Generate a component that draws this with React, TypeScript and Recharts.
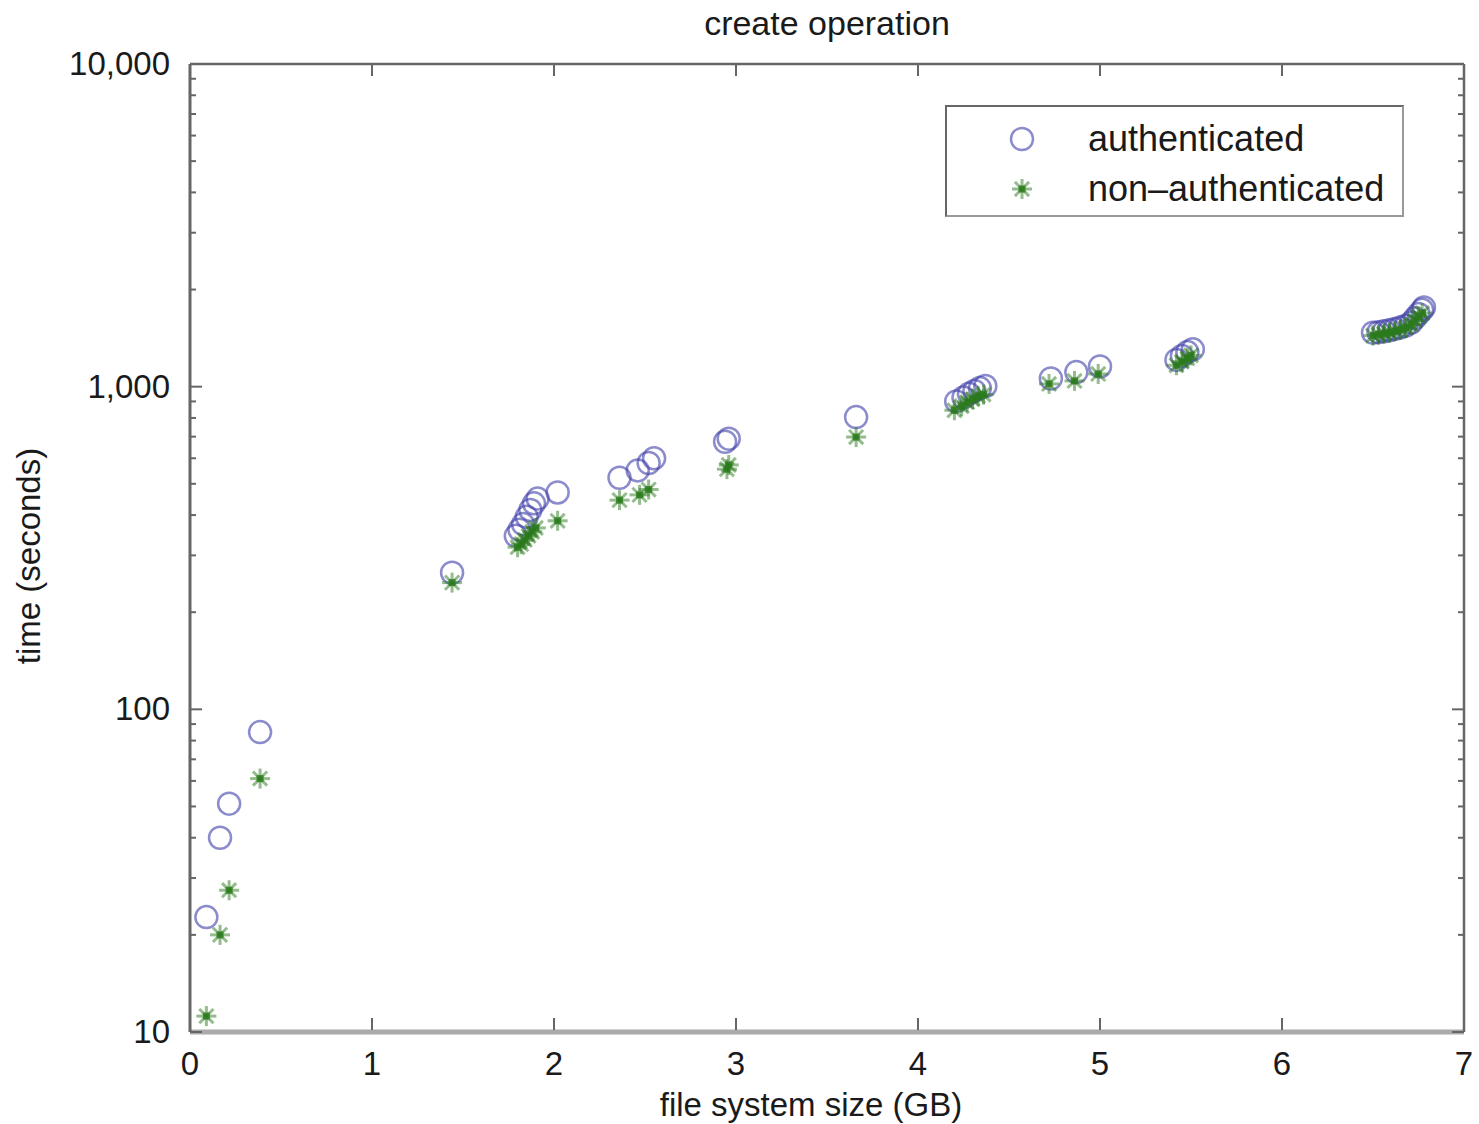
import { ScatterChart, Scatter, XAxis, YAxis, Legend } from 'recharts';

// authenticated runs (circles)
const AUTH_X = [
  0.09, 0.165, 0.215, 0.385, 1.44,
  1.79, 1.81, 1.83, 1.85, 1.87, 1.89, 1.91, 2.02,
  2.36, 2.46, 2.52, 2.55, 2.94, 2.96, 3.66,
  4.21, 4.25, 4.28, 4.31, 4.34, 4.37,
  4.73, 4.87, 5.0,
  5.42, 5.45, 5.48, 5.51,
  6.5, 6.53, 6.56, 6.59, 6.62, 6.65, 6.68, 6.71, 6.73, 6.75, 6.77, 6.78,
];
const AUTH_Y = [
  22.7, 40, 51, 85, 265,
  345, 360, 375, 395, 415, 435, 450, 470,
  522, 550, 580, 600, 675, 690, 805,
  900, 925, 950, 970, 990, 1005,
  1060, 1110, 1155,
  1210, 1245, 1280, 1305,
  1470, 1475, 1485, 1495, 1510, 1525, 1545, 1580, 1630, 1680, 1730, 1760,
];

// non-authenticated runs (asterisks)
const NONAUTH_X = [
  0.09, 0.165, 0.215, 0.385, 1.44,
  1.8, 1.82, 1.84, 1.86, 1.88, 1.9, 2.02,
  2.36, 2.47, 2.52, 2.95, 2.96, 3.66,
  4.2, 4.24, 4.27, 4.3, 4.33, 4.36,
  4.72, 4.86, 4.99,
  5.42, 5.45, 5.48, 5.5,
  6.5, 6.53, 6.56, 6.59, 6.62, 6.65, 6.68, 6.71, 6.73, 6.75, 6.77,
];
const NONAUTH_Y = [
  11.2, 20, 27.5, 61, 247,
  318, 325, 335, 345, 355, 365, 384,
  445, 462, 480, 555, 572, 698,
  845, 870, 895, 915, 935, 945,
  1020, 1042, 1095,
  1165, 1195, 1225, 1250,
  1440, 1450, 1460, 1470, 1485, 1500, 1520, 1555, 1600, 1650, 1690,
];

const X_TICKS = [0, 1, 2, 3, 4, 5, 6, 7];
const Y_MAJOR = [10, 100, 1000, 10000];
const Y_MINOR = [20, 30, 40, 50, 60, 70, 80, 90, 200, 300, 400, 500, 600, 700, 800, 900, 2000, 3000, 4000, 5000, 6000, 7000, 8000, 9000];
const Y_TICKS = [...Y_MAJOR, ...Y_MINOR].sort((a, b) => a - b);

const authData = AUTH_X.map((x, i) => ({ x, y: AUTH_Y[i] }));
const nonAuthData = NONAUTH_X.map((x, i) => ({ x, y: NONAUTH_Y[i] }));

const FONT = '"Liberation Sans", Arial, sans-serif';
const FRAME = '#666';
const TEXT = '#1a1a1a';
const CIRCLE = '#4040aa';
const STAR = '#2a7a1c';

const fmt = (v: number) => v.toLocaleString('en-US');

const CircleMark = ({ cx, cy }: any) => (
  <circle cx={cx} cy={cy} r={11} fill="none" stroke={CIRCLE} strokeOpacity={0.6} strokeWidth={2.5} />
);

const StarMark = ({ cx, cy }: any) => {
  const r = 10;
  const d = r * 0.707;
  return (
    <g stroke={STAR} strokeOpacity={0.5} strokeWidth={3}>
      <line x1={cx - r} y1={cy} x2={cx + r} y2={cy} />
      <line x1={cx} y1={cy - r} x2={cx} y2={cy + r} />
      <line x1={cx - d} y1={cy - d} x2={cx + d} y2={cy + d} />
      <line x1={cx - d} y1={cy + d} x2={cx + d} y2={cy - d} />
      <rect x={cx - 3.5} y={cy - 3.5} width={7} height={7} fill={STAR} fillOpacity={0.8} stroke="none" />
    </g>
  );
};

const LeftTick = ({ x, y, payload }: any) => {
  const major = Y_MAJOR.includes(payload.value);
  return (
    <g>
      <line x1={x} y1={y} x2={x + (major ? 12 : 6)} y2={y} stroke={FRAME} strokeWidth={2} />
      {major && (
        <text x={x - 20} y={y} dy={11} textAnchor="end" fontSize={33} fill={TEXT} fontFamily={FONT}>
          {fmt(payload.value)}
        </text>
      )}
    </g>
  );
};

const RightTick = ({ x, y, payload }: any) => {
  const major = Y_MAJOR.includes(payload.value);
  return <line x1={x} y1={y} x2={x - (major ? 12 : 6)} y2={y} stroke={FRAME} strokeWidth={2} />;
};

const BottomTick = ({ x, y, payload }: any) => (
  <g>
    <line x1={x} y1={y - 2} x2={x} y2={y - 14} stroke={FRAME} strokeWidth={2} />
    <text x={x} y={y + 43} textAnchor="middle" fontSize={33} fill={TEXT} fontFamily={FONT}>
      {payload.value}
    </text>
  </g>
);

const TopTick = ({ x, y }: any) => (
  <line x1={x} y1={y} x2={x} y2={y + 12} stroke={FRAME} strokeWidth={2} />
);

const LegendBox = ({ payload }: any) => (
  <div
    style={{
      width: 455,
      height: 108,
      border: `2px solid ${FRAME}`,
      borderRightColor: '#999',
      borderBottomColor: '#999',
      background: '#fff',
      fontFamily: FONT,
      fontSize: 36,
      color: TEXT,
      boxSizing: 'content-box',
    }}
  >
    {(payload || [])
      .filter((p: any) => p.type !== 'none' && p.value)
      .map((p: any, i: number) => (
        <div key={p.value} style={{ position: 'absolute', left: 0, top: 14 + i * 50, height: 40, width: 460 }}>
          <svg width={40} height={40} style={{ position: 'absolute', left: 57, top: 0 }}>
            {i === 0 ? <CircleMark cx={20} cy={20} /> : <StarMark cx={20} cy={20} />}
          </svg>
          <span style={{ position: 'absolute', left: 143, top: 0, lineHeight: '40px', whiteSpace: 'nowrap' }}>{p.value}</span>
        </div>
      ))}
  </div>
);

const Hidden = () => null;

export default function App() {
  return (
    <div style={{ position: 'absolute', left: 0, top: 0, width: 1479, height: 1124, background: '#fff', fontFamily: FONT }}>
      <ScatterChart width={1479} height={1124} margin={{ top: 63, right: 14, bottom: 52, left: 90 }}>
        <XAxis
          xAxisId="bottom"
          dataKey="x"
          type="number"
          domain={[0, 7]}
          ticks={X_TICKS}
          interval={0}
          allowDataOverflow
          height={40}
          tickSize={0}
          tickMargin={0}
          tickLine={false}
          axisLine={{ stroke: '#aaa', strokeWidth: 5 }}
          tick={<BottomTick />}
          label={{ value: 'file system size (GB)', position: 'insideBottom', offset: -44, dx: -16, fontSize: 33, fill: TEXT, fontFamily: FONT }}
        />
        <XAxis
          xAxisId="top"
          dataKey="x"
          orientation="top"
          type="number"
          domain={[0, 7]}
          ticks={X_TICKS}
          interval={0}
          allowDataOverflow
          height={1}
          tickSize={0}
          tickMargin={0}
          tickLine={false}
          axisLine={{ stroke: FRAME, strokeWidth: 2.5 }}
          tick={<TopTick />}
          label={{ value: 'create operation', position: 'top', offset: 28, fontSize: 34, fill: TEXT, fontFamily: FONT }}
        />
        <YAxis
          yAxisId="left"
          dataKey="y"
          type="number"
          scale="log"
          domain={[10, 10000]}
          ticks={Y_TICKS}
          interval={0}
          allowDataOverflow
          width={100}
          tickSize={0}
          tickMargin={0}
          tickLine={false}
          axisLine={{ stroke: FRAME, strokeWidth: 3 }}
          tick={<LeftTick />}
          label={{ value: 'time (seconds)', angle: -90, position: 'insideLeft', offset: -62, dy: 8, fontSize: 33, fill: TEXT, fontFamily: FONT, style: { textAnchor: 'middle' } }}
        />
        <YAxis
          yAxisId="right"
          dataKey="y"
          orientation="right"
          type="number"
          scale="log"
          domain={[10, 10000]}
          ticks={Y_TICKS}
          interval={0}
          allowDataOverflow
          width={1}
          tickSize={0}
          tickMargin={0}
          tickLine={false}
          axisLine={{ stroke: FRAME, strokeWidth: 2.5 }}
          tick={<RightTick />}
        />
        <Legend
          layout="vertical"
          align="center"
          verticalAlign="middle"
          wrapperStyle={{ top: 105, left: 945, width: 460, height: 112 }}
          content={<LegendBox />}
        />
        {/* invisible copy so the mirrored frame axes have a series */}
        <Scatter
          data={authData}
          xAxisId="top"
          yAxisId="right"
          shape={<Hidden />}
          legendType="none"
          isAnimationActive={false}
        />
        <Scatter
          name="authenticated"
          data={authData}
          xAxisId="bottom"
          yAxisId="left"
          shape={<CircleMark />}
          isAnimationActive={false}
        />
        <Scatter
          name="non–authenticated"
          data={nonAuthData}
          xAxisId="bottom"
          yAxisId="left"
          shape={<StarMark />}
          isAnimationActive={false}
        />
      </ScatterChart>
    </div>
  );
}
